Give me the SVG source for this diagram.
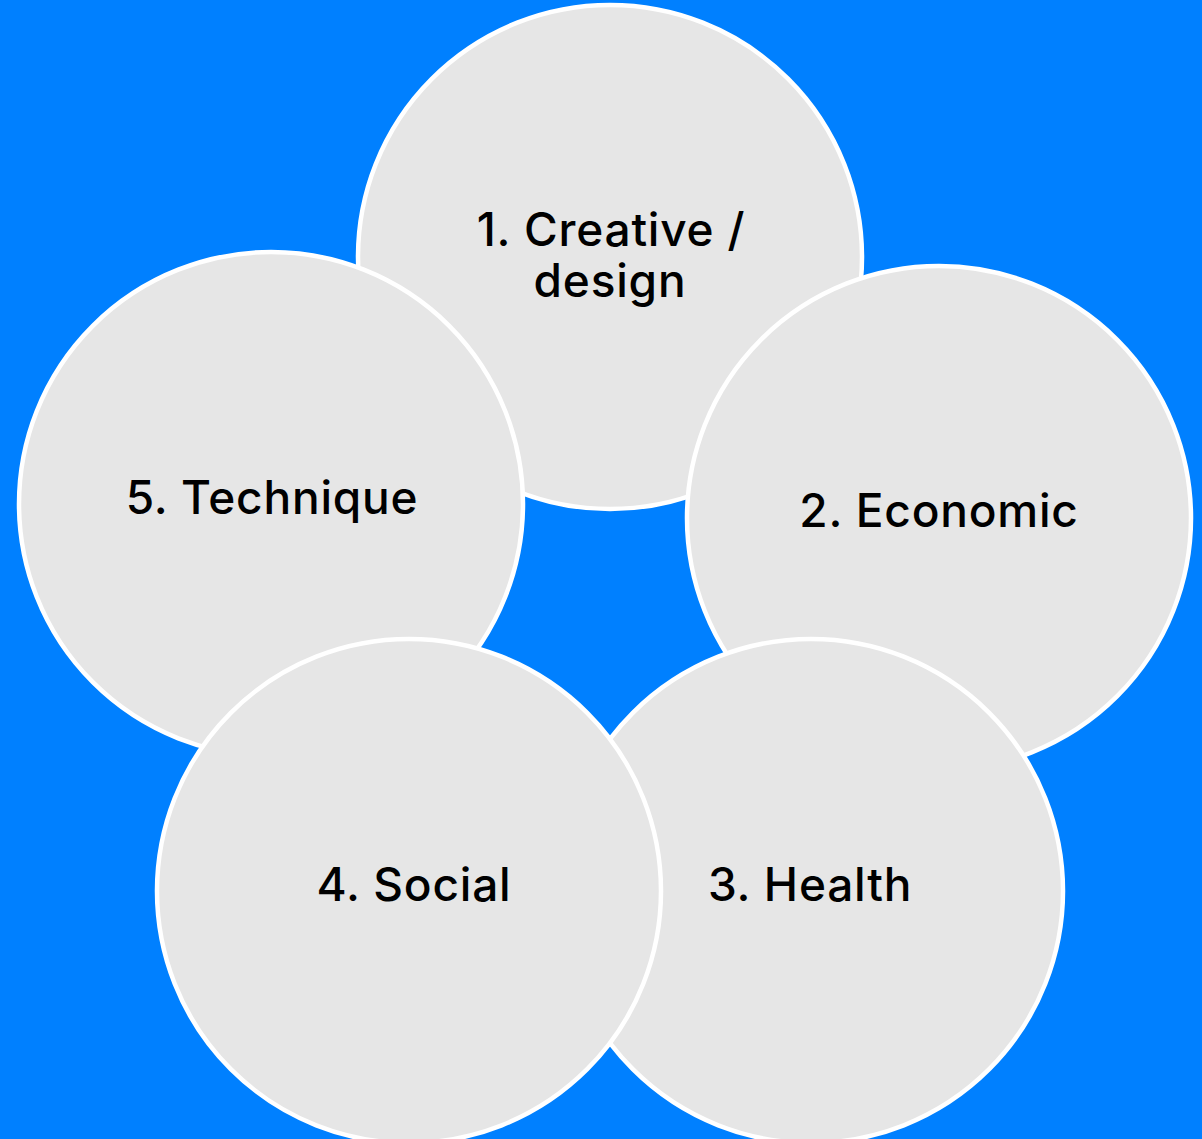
<svg xmlns="http://www.w3.org/2000/svg" width="1202" height="1139" viewBox="0 0 1202 1139">
<style>
.c{fill:#E6E6E6;stroke:#FFFFFF;stroke-width:4.5}
.t{font-family:Inter,"Liberation Sans",sans-serif;font-weight:500;font-size:46px;letter-spacing:0.8px;fill:#000;text-anchor:middle}
</style>
<rect width="1202" height="1139" fill="#0080FF"/>
<g id="node1"><circle class="c" cx="610" cy="257" r="252"/><text class="t" x="611" y="246">1. Creative /</text><text class="t" x="610" y="297">design</text></g>
<g id="node2"><circle class="c" cx="939" cy="518" r="252"/><text class="t" x="939" y="527">2. Economic</text></g>
<g id="node5"><circle class="c" cx="271" cy="504" r="252"/><text class="t" x="272" y="514">5. Technique</text></g>
<g id="node3"><circle class="c" cx="811" cy="891" r="252"/><text class="t" x="810" y="901">3. Health</text></g>
<g id="node4"><circle class="c" cx="409" cy="891" r="252"/><text class="t" x="414" y="901">4. Social</text></g>
<g id="connectors"></g>
</svg>
